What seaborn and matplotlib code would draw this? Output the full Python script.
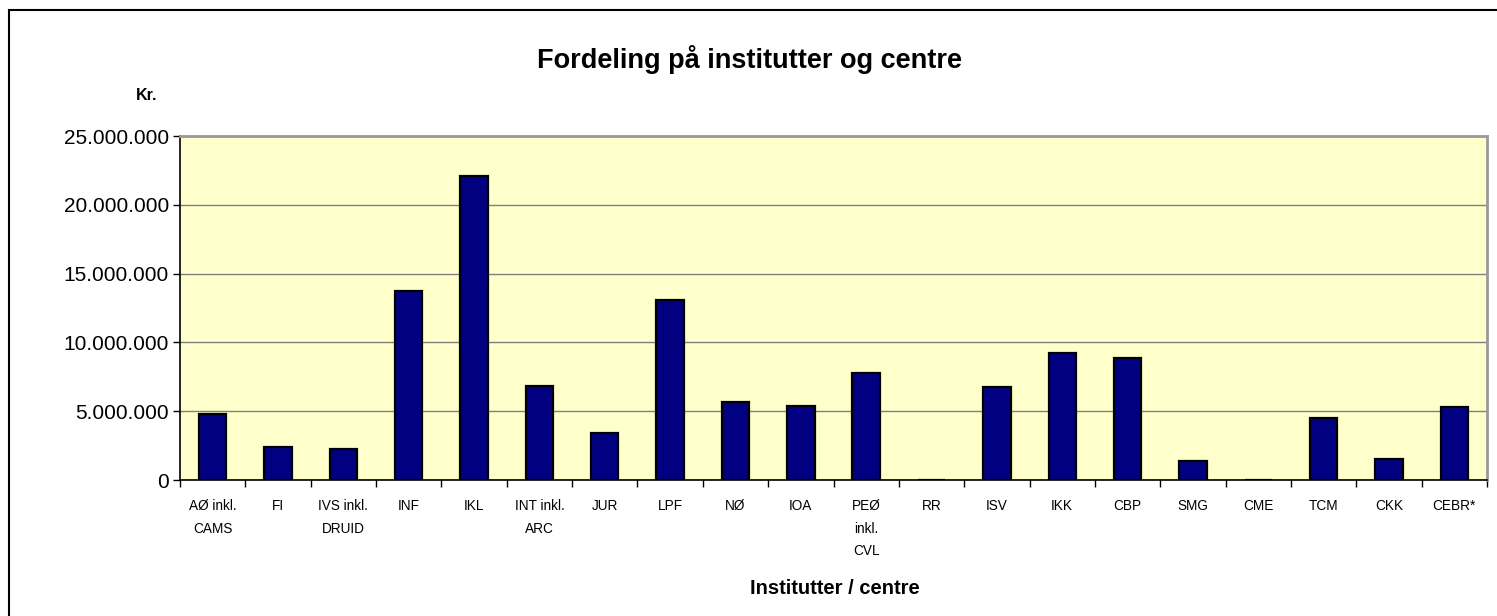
import matplotlib
matplotlib.use("Agg")
import matplotlib.pyplot as plt
import matplotlib.ticker as mticker
import matplotlib.patches as mpatches
import numpy as np
import pandas as pd
import seaborn as sns

# ── data ──────────────────────────────────────────────────────────────────────
CATEGORIES = [
    "AØ inkl.\nCAMS", "FI", "IVS inkl.\nDRUID", "INF", "IKL", "INT inkl.\nARC",
    "JUR", "LPF", "NØ", "IOA", "PEØ\ninkl.\nCVL", "RR", "ISV", "IKK", "CBP",
    "SMG", "CME", "TCM", "CKK", "CEBR*",
]
AMOUNTS = [
    4800000, 2370000, 2230000, 13760000, 22100000, 6850000,
    3390000, 13080000, 5700000, 5360000, 7750000, 0, 6730000, 9200000, 8860000,
    1360000, 0, 4500000, 1530000, 5300000,
]
Y_TICKS = [0, 5000000, 10000000, 15000000, 20000000, 25000000]

df = pd.DataFrame({"institut": CATEGORIES, "kr": AMOUNTS})

# ── style ─────────────────────────────────────────────────────────────────────
sns.set_style("white")
plt.rcParams["font.family"] = ["Liberation Sans", "DejaVu Sans"]
plt.rcParams["text.color"] = "black"
plt.rcParams["xtick.color"] = "black"
plt.rcParams["ytick.color"] = "black"

W, H = 1497, 616
fig = plt.figure(figsize=(W / 100, H / 100), dpi=100)
ax = fig.add_axes([180 / W, 1 - 480 / H, (1487 - 180) / W, (480 - 136) / H])

# outer chart border (Excel style)
fig.patches.append(mpatches.Rectangle((9 / W, -0.05), 1.2, 1 - 10 / H + 0.05,
                                      transform=fig.transFigure, fill=False,
                                      edgecolor="black", linewidth=1.5))

ax.set_facecolor("#FFFFCC")
sns.barplot(data=df, x="institut", y="kr", color="#000080", saturation=1,
            edgecolor="black", linewidth=1.6, width=0.42, ax=ax)

ax.set_ylim(0, 25000000)
ax.set_xlim(-0.5, len(CATEGORIES) - 0.5)
ax.set_yticks(Y_TICKS)
ax.yaxis.set_major_formatter(
    mticker.FuncFormatter(lambda v, p: f"{int(v):,}".replace(",", ".")))
ax.yaxis.grid(True, color="#808080", linewidth=1)
ax.set_axisbelow(True)

# ticks between categories, labels centred under bars
ax.set_xticks(np.arange(-0.5, len(CATEGORIES), 1))
ax.set_xticklabels([])
ax.set_xticks(np.arange(len(CATEGORIES)), minor=True)
ax.set_xticklabels(CATEGORIES, minor=True, fontsize=9.8, linespacing=1.75,
                   va="top")
ax.tick_params(axis="x", which="major", direction="out", length=5,
               width=1, color="black", bottom=True)
ax.tick_params(axis="x", which="minor", length=0, pad=14)
ax.tick_params(axis="y", direction="out", length=5, width=1, color="black",
               left=True, labelsize=15, pad=3)

for side in ["left", "bottom"]:
    ax.spines[side].set_color("black")
    ax.spines[side].set_linewidth(1.2)
for side in ["top", "right"]:
    ax.spines[side].set_color("#999999")
    ax.spines[side].set_linewidth(2)

ax.set_xlabel("")
ax.set_ylabel("")

fig.text(750 / W, 1 - 59 / H, "Fordeling på institutter og centre",
         ha="center", va="center", fontsize=19.5, fontweight="bold")
fig.text(147 / W, 1 - 95 / H, "Kr.", ha="center", va="center",
         fontsize=11.5, fontweight="bold")
fig.text(835 / W, 1 - 589 / H, "Institutter / centre", ha="center",
         va="center", fontsize=14.5, fontweight="bold")

fig.savefig("out.png", dpi=100)
